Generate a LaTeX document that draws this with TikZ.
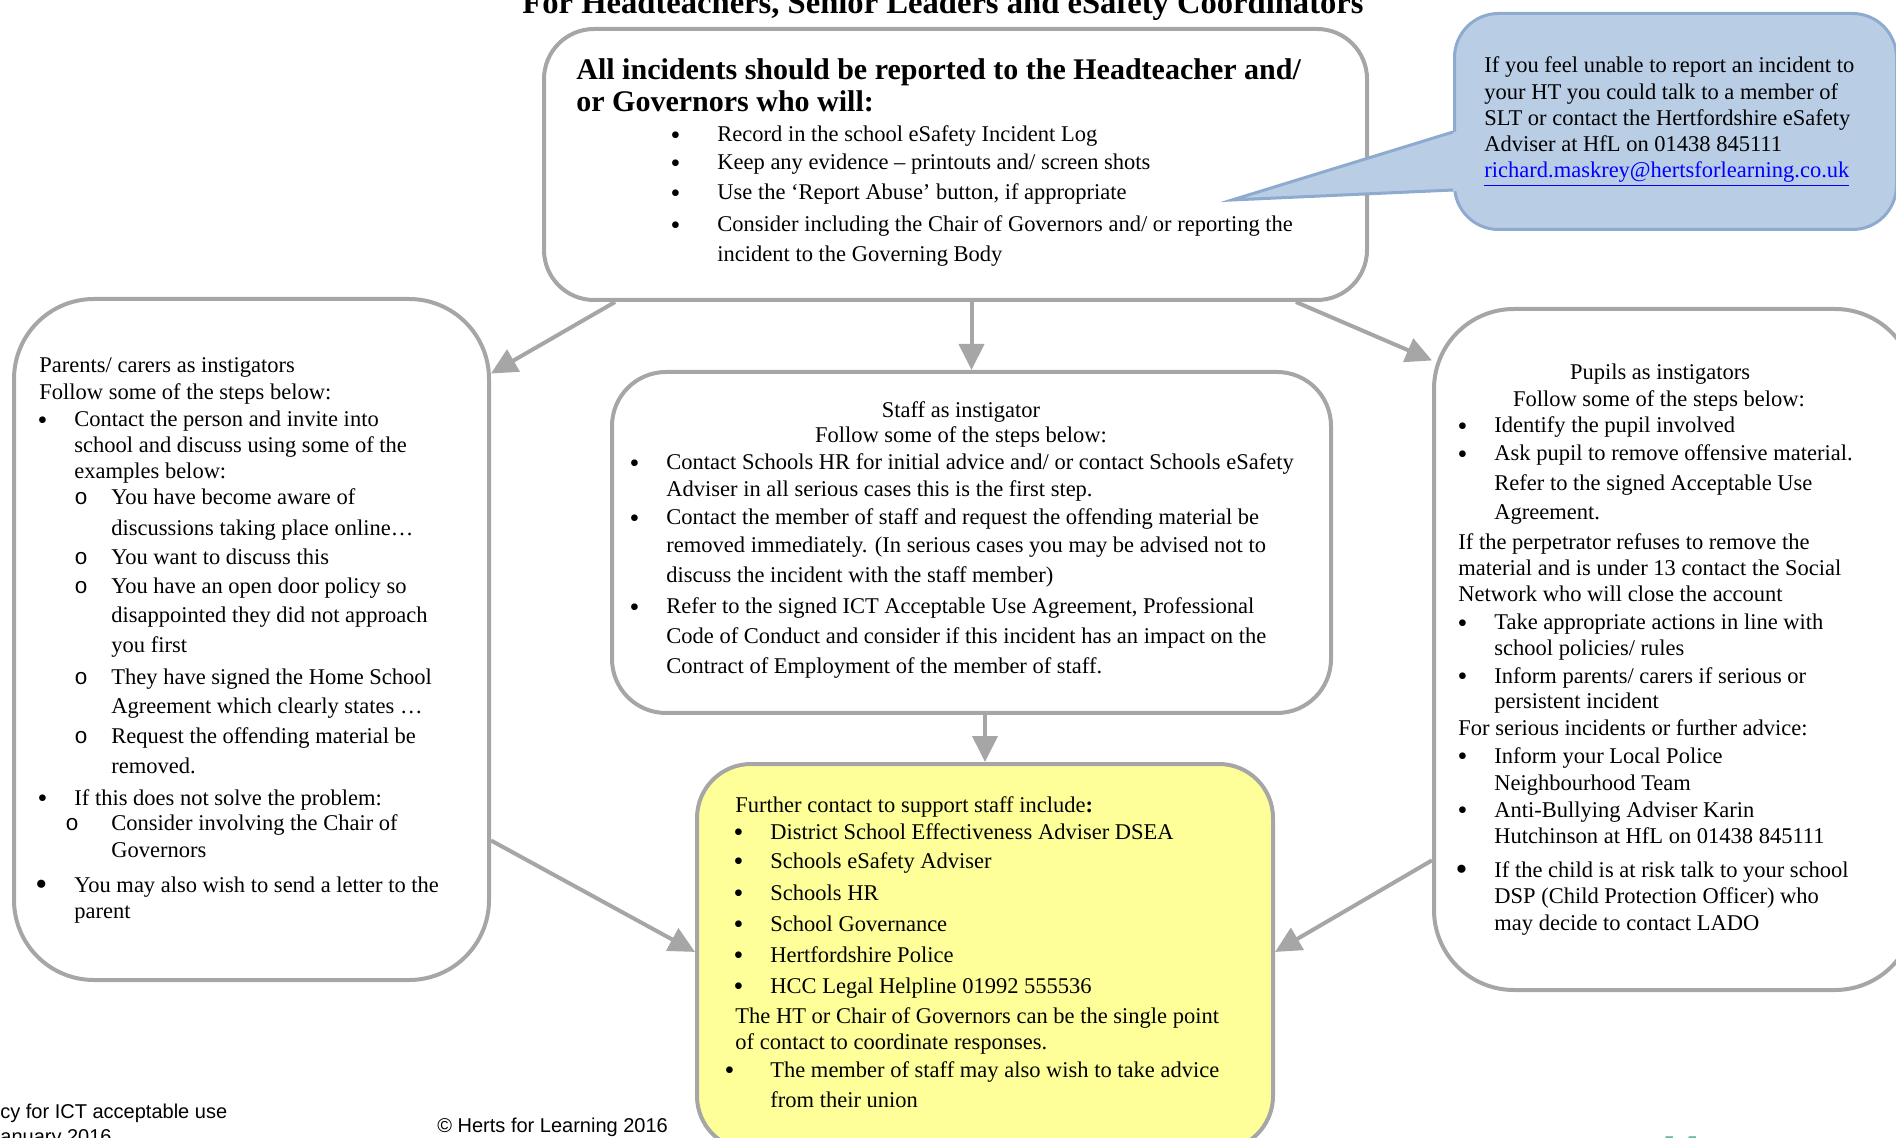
\documentclass[tikz,border=0pt]{standalone}
\usepackage{fontspec}
\setmainfont{Liberation Serif}
\setsansfont{Liberation Sans}
\setmonofont{Liberation Mono}
\usetikzlibrary{arrows.meta}

\definecolor{boxgray}{HTML}{A6A6A6}
\definecolor{hintfill}{HTML}{B9CDE5}
\definecolor{hintline}{HTML}{8EAACE}
\definecolor{notefill}{HTML}{FFFF99}
\definecolor{logoteal}{HTML}{6BB7A6}

% list marks, hung left of the text start
\newcommand{\bul}[1][13.5pt]{\llap{\raisebox{-1.2pt}{\fontsize{14}{14}\selectfont\textbullet}\hspace{#1}}}
\newcommand{\bigbul}[1][13.5pt]{\llap{\raisebox{-1.8pt}{\fontsize{17}{17}\selectfont\textbullet}\hspace{#1}}}
\newcommand{\subo}[1][11.75pt]{\llap{\texttt{o}\hspace{#1}}}

\begin{document}
\begin{tikzpicture}[x=0.5pt, y=-0.5pt,
  box/.style={draw=boxgray, line width=2pt, rounded corners=#1, inner sep=0pt, anchor=north west},
  box/.default=25pt,
  arr/.style={draw=boxgray, line width=2pt, -{Triangle[length=13pt,width=12.5pt]}},
  txt/.style={anchor=base west, inner sep=0pt, font=\fontsize{11.25}{13}\selectfont},
  mid/.style={txt, anchor=base},
  foot/.style={anchor=base west, inner sep=0pt, font=\sffamily\fontsize{10}{12}\selectfont}]
\useasboundingbox (0,0) rectangle (1896,1138);
\clip (0,0) rectangle (1896,1138);

% title, cut by the page top
\node[anchor=base, inner sep=0pt, font=\bfseries\fontsize{16.3}{18}\selectfont] (title) at (943,14)
  {For Headteachers, Senior Leaders and eSafety Coordinators};

% boxes
\node[box, minimum width=411.5pt, minimum height=135.5pt] (ht) at (542,27) {};
\node[box=40pt, minimum width=237.5pt, minimum height=340.5pt] (par) at (12,297) {};
\node[box=27pt, minimum width=359.5pt, minimum height=170.5pt] (staff) at (610,370) {};
\node[box=40pt, minimum width=240.5pt, minimum height=340.5pt] (pup) at (1432,307) {};
\node[box=27pt, fill=notefill, minimum width=288pt, minimum height=193pt] (yel) at (695,762) {};

% speech bubble
\node[anchor=north west, fill=hintfill, draw=hintline, line width=1.5pt, rounded corners=22pt,
  minimum width=221pt, minimum height=108pt, inner sep=0pt] (hint) at (1453,12) {};
\coordinate (hintTip) at (1232,200);
\fill[hintfill] (1458,131) -- (hintTip) -- (1458,191) -- cycle;
\draw[hintline, line width=1.5pt] (1453,132) -- (hintTip) -- (1453,190);

% arrows
\draw[arr] (ht.202.7) -- (par.48.6);
\draw[arr] (ht.south -| staff.north) -- (staff.north);
\draw[arr] (ht.338.2) -- (pup.130.6);
\draw[arr] (staff.south -| yel.north) -- (yel.north);
\draw[arr] (par.320.3) -- (yel.179);
\draw[arr] (pup.221.3) -- (yel.1);

% top box
\foreach \y/\t in {80/{All incidents should be reported to the Headteacher and/},
                   112/{or Governors who will:}}
  \node[txt, font=\bfseries\fontsize{15}{16}\selectfont] (head\y) at (576,\y) {\t};
\foreach \y/\t in {142/{\bul[18.5pt]Record in the school eSafety Incident Log},
                   170/{\bul[18.5pt]Keep any evidence – printouts and/ screen shots},
                   200/{\bul[18.5pt]Use the ‘Report Abuse’ button, if appropriate},
                   232/{\bul[18.5pt]Consider including the Chair of Governors and/ or reporting the},
                   262/{incident to the Governing Body}}
  \node[txt] (htl\y) at (717,\y) {\t};

% bubble text
\foreach \y/\t in {73/{If you feel unable to report an incident to},
                   100/{your HT you could talk to a member of},
                   126/{SLT or contact the Hertfordshire eSafety},
                   152/{Adviser at HfL on 01438 845111},
                   178/{{\color{blue}\underline{richard.maskrey@hertsforlearning.co.uk}}}}
  \node[txt] (hintl\y) at (1484,\y) {\t};

% parents
\foreach \y/\x/\t in {373/39/{Parents/ carers as instigators},
                      400/39/{Follow some of the steps below:},
                      427/74/{\bul Contact the person and invite into},
                      453/74/{school and discuss using some of the},
                      479/74/{examples below:},
                      505/111/{\subo You have become aware of},
                      536/111/{discussions taking place online…},
                      565/111/{\subo You want to discuss this},
                      594/111/{\subo You have an open door policy so},
                      623/111/{disappointed they did not approach},
                      653/111/{you first},
                      685/111/{\subo They have signed the Home School},
                      713/111/{Agreement which clearly states …},
                      743/111/{\subo Request the offending material be},
                      773/111/{removed.},
                      805/74/{\bul If this does not solve the problem:},
                      830/111/{\subo[16.25pt]Consider involving the Chair of},
                      857/111/{Governors},
                      892/74/{\bigbul You may also wish to send a letter to the},
                      918/74/{parent}}
  \node[txt] (parl\y) at (\x,\y) {\t};

% staff
\node[mid] (staffh) at (961,418) {Staff as instigator};
\node[mid] (staffs) at (961,443) {Follow some of the steps below:};
\foreach \y/\t in {470/{\bul Contact Schools HR for initial advice and/ or contact Schools eSafety},
                   497/{Adviser in all serious cases this is the first step.},
                   525/{\bul Contact the member of staff and request the offending material be},
                   553/{removed immediately. (In serious cases you may be advised not to},
                   583/{discuss the incident with the staff member)},
                   614/{\bul Refer to the signed ICT Acceptable Use Agreement, Professional},
                   644/{Code of Conduct and consider if this incident has an impact on the},
                   674/{Contract of Employment of the member of staff.}}
  \node[txt] (staffl\y) at (666,\y) {\t};

% pupils
\node[mid] (puph) at (1660,380) {Pupils as instigators};
\node[mid] (pups) at (1659,407) {Follow some of the steps below:};
\foreach \y/\x/\t in {433/1494/{\bul Identify the pupil involved},
                      461/1494/{\bul Ask pupil to remove offensive material.},
                      491/1494/{Refer to the signed Acceptable Use},
                      520/1494/{Agreement.},
                      550/1458/{If the perpetrator refuses to remove the},
                      576/1458/{material and is under 13 contact the Social},
                      602/1458/{Network who will close the account},
                      630/1494/{\bul Take appropriate actions in line with},
                      656/1494/{school policies/ rules},
                      683/1494/{\bul Inform parents/ carers if serious or},
                      709/1494/{persistent incident},
                      735/1458/{For serious incidents or further advice:},
                      763/1494/{\bul Inform your Local Police},
                      790/1494/{Neighbourhood Team},
                      817/1494/{\bul Anti-Bullying Adviser Karin},
                      843/1494/{Hutchinson at HfL on 01438 845111},
                      877/1494/{\bigbul If the child is at risk talk to your school},
                      903/1494/{DSP (Child Protection Officer) who},
                      930/1494/{may decide to contact LADO}}
  \node[txt] (pupl\y) at (\x,\y) {\t};

% further contacts
\foreach \y/\x/\t in {812/735/{Further contact to support staff include\textbf{:}},
                      839/770/{\bul District School Effectiveness Adviser DSEA},
                      868/770/{\bul Schools eSafety Adviser},
                      900/770/{\bul Schools HR},
                      931/770/{\bul School Governance},
                      962/770/{\bul Hertfordshire Police},
                      993/770/{\bul HCC Legal Helpline 01992 555536},
                      1023/735/{The HT or Chair of Governors can be the single point},
                      1049/735/{of contact to coordinate responses.},
                      1077/770/{\bul[18pt]The member of staff may also wish to take advice},
                      1107/770/{from their union}}
  \node[txt] (yell\y) at (\x,\y) {\t};

% page footer, cut by the page edges
\node[foot] (pol) at (0,1118) {cy for ICT acceptable use};
\node[foot] (date) at (0,1143) {anuary 2016};
\node[foot] (copy) at (437,1132) {© Herts for Learning 2016};
\node[anchor=base west, inner sep=0pt, text=logoteal, font=\sffamily\bfseries\fontsize{26}{26}\selectfont] (logo) at (1662,1172) {Herts};
\end{tikzpicture}
\end{document}
